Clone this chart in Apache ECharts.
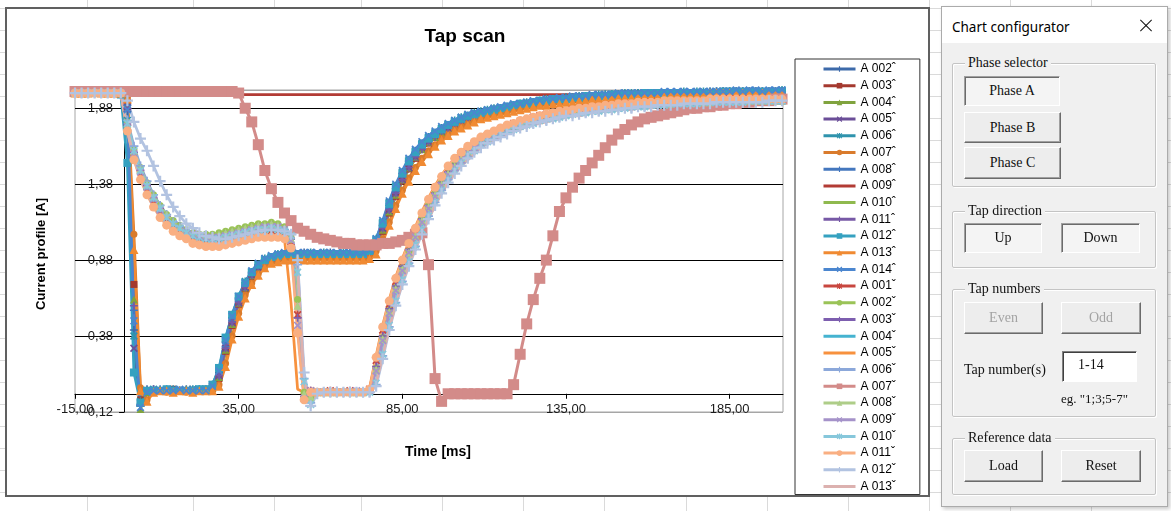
<!DOCTYPE html>
<html>
<head>
<meta charset="utf-8">
<script src="https://cdn.jsdelivr.net/npm/echarts/dist/echarts.min.js"></script>
<style>
  html, body { margin: 0; padding: 0; }
  body { width: 1171px; height: 511px; overflow: hidden; position: relative; background: #fff; font-family: 'Liberation Sans', Arial, sans-serif; }
  .hl { position: absolute; left: 0; width: 1171px; height: 1px; background: #DADADA; }
  .vl { position: absolute; top: 0; width: 1px; height: 511px; background: #DADADA; }
  #frame { position: absolute; left: 5px; top: 7px; width: 925px; height: 490px; box-sizing: border-box; border: 2px solid #606060; background: #fff; }
  #chart { position: absolute; left: 0; top: 0; width: 1171px; height: 511px; }
  #dlg { position: absolute; left: 941px; top: 6px; width: 227px; height: 501px; box-sizing: border-box; background: #F0F0F0; border: 1px solid #ABABAB; box-shadow: 2px 2px 4px rgba(0,0,0,0.22); }
  #dlgbar { position: absolute; left: 942px; top: 7px; width: 225px; height: 36px; background: #fff; }
  .ttl { position: absolute; left: 952px; top: 17px; font: 13.5px 'Noto Sans', sans-serif; line-height: 20px; color: #000; }
  .xl { position: absolute; left: 1138px; top: 25px; width: 16px; height: 1px; background: #111; }
  .grp { position: absolute; left: 952px; width: 204px; box-sizing: border-box; border: 1px solid #C4C4C4; box-shadow: inset 1px 1px 0 #fff, 1px 1px 0 #fff; border-radius: 2px; }
  .gt { position: absolute; left: 965px; background: #F0F0F0; padding: 0 3px; font: 14px 'Liberation Serif', serif; line-height: 16px; color: #111; }
  .btn { position: absolute; box-sizing: border-box; display: flex; align-items: center; justify-content: center; font: 14px 'Liberation Serif', serif; color: #111; background: #EDEDED; border: 1px solid; border-color: #FFFFFF #6B6B6B #6B6B6B #FFFFFF; box-shadow: inset -1px -1px 0 #A0A0A0; }
  .btn.on { border-color: #A0A0A0 #FFFFFF #FFFFFF #A0A0A0; box-shadow: inset 1px 1px 0 #6B6B6B; background: #F4F4F4; }
  .btn.off { color: #A3A3A3; }
  .lbl { position: absolute; font: 14px 'Liberation Serif', serif; line-height: 16px; color: #111; }
  .box { position: absolute; left: 1062px; top: 351px; width: 75px; height: 31px; box-sizing: border-box; background: #fff; border: 1px solid; border-color: #808080 #FFFFFF #FFFFFF #808080; box-shadow: inset 1px 1px 0 #404040; font: 14px 'Liberation Serif', serif; color: #111; padding: 5px 0 0 15px; }
</style>
</head>
<body>
<div id="sheet"></div>
<div id="frame"></div>
<div id="chart"></div>

<div id="dlg"></div>
<div id="dlgbar"></div>
<div class="ttl">Chart configurator</div>
<div class="xl" style="transform: rotate(45deg);"></div>
<div class="xl" style="transform: rotate(-45deg);"></div>

<div class="grp" style="top:63px; height:124px;"></div>
<div class="gt" style="top:55px;">Phase selector</div>
<div class="btn on" style="left:964px; top:76px; width:96px; height:30px;">Phase A</div>
<div class="btn" style="left:964px; top:112px; width:97px; height:31px;">Phase B</div>
<div class="btn" style="left:964px; top:147px; width:97px; height:32px;">Phase C</div>

<div class="grp" style="top:211px; height:57px;"></div>
<div class="gt" style="top:203px;">Tap direction</div>
<div class="btn on" style="left:964px; top:223px; width:78px; height:30px;">Up</div>
<div class="btn on" style="left:1061px; top:223px; width:79px; height:30px;">Down</div>

<div class="grp" style="top:289px; height:128px;"></div>
<div class="gt" style="top:281px;">Tap numbers</div>
<div class="btn off" style="left:964px; top:302px; width:79px; height:32px;">Even</div>
<div class="btn off" style="left:1061px; top:302px; width:80px; height:32px;">Odd</div>
<div class="lbl" style="left:964px; top:362px;">Tap number(s)</div>
<div class="box">1-14</div>
<div class="lbl" style="left:1061px; top:391px; font-size:13px;">eg. "1;3;5-7"</div>

<div class="grp" style="top:438px; height:57px;"></div>
<div class="gt" style="top:430px;">Reference data</div>
<div class="btn" style="left:964px; top:450px; width:79px; height:32px;">Load</div>
<div class="btn" style="left:1061px; top:450px; width:80px; height:32px;">Reset</div>

<script>
// Worksheet cell lines behind the chart object
(function () {
  const sheet = document.getElementById('sheet');
  const cols = [87, 193, 274, 361, 442, 523, 604, 686, 767, 848, 929, 1010, 1091];
  cols.forEach(function (x) {
    const d = document.createElement('div');
    d.className = 'vl'; d.style.left = x + 'px'; sheet.appendChild(d);
  });
  for (let y = 8; y < 511; y += 22) {
    const d = document.createElement('div');
    d.className = 'hl'; d.style.top = y + 'px'; sheet.appendChild(d);
  }
})();

// Sample times [ms]
const timeMs = [
  -15,-13,-11,-9,-7,-5,-3,-1,
  1,3,5,7,9,11,13,15,17,19,
  21,23,25,27,29,31,33,35,37,39,
  41,43,45,47,49,51,53,55,57,59,
  61,63,65,67,69,71,73,75,77,79,
  81,83,85,87,89,91,93,95,97,99,
  101,103,105,107,109,111,113,115,117,119,
  121,123,125,127,129,131,133,135,137,139,
  141,143,145,147,149,151,153,155,157,159,
  161,163,165,167,169,171,173,175,177,179,
  181,183,185,187,189,191,193,195,197,199,201
];

// Current profile [A], tap-up operations
const a002Up = [
  1.98,1.98,1.99,1.98,1.98,1.99,1.98,1.98,
  1.86,0.42,-0.07,0.03,0.02,0.02,0.03,0.02,0.02,0.03,
  0.02,0.02,0.03,0.05,0.14,0.34,0.50,0.63,0.73,0.80,
  0.85,0.88,0.90,0.91,0.92,0.92,0.92,0.93,0.92,0.92,
  0.92,0.93,0.92,0.92,0.93,0.92,0.92,0.94,1.00,1.11,
  1.24,1.35,1.45,1.53,1.59,1.64,1.68,1.71,1.74,1.77,
  1.79,1.81,1.83,1.84,1.85,1.86,1.87,1.88,1.89,1.90,
  1.91,1.91,1.92,1.93,1.93,1.94,1.94,1.95,1.95,1.95,
  1.96,1.96,1.96,1.97,1.97,1.97,1.97,1.97,1.98,1.98,
  1.98,1.98,1.98,1.98,1.98,1.98,1.98,1.98,1.98,1.98,
  1.99,1.99,1.99,1.99,1.99,1.99,1.99,1.99,1.99,1.99,1.99
];
const a003Up = [
  1.98,1.98,1.98,1.98,1.98,1.98,1.98,1.98,
  1.92,0.72,-0.04,0.02,0.02,0.02,0.02,0.03,0.02,0.02,
  0.02,0.02,0.03,0.04,0.10,0.28,0.45,0.59,0.69,0.77,
  0.83,0.87,0.89,0.90,0.91,0.91,0.91,0.91,0.91,0.91,
  0.91,0.91,0.91,0.91,0.91,0.91,0.91,0.92,0.97,1.07,
  1.19,1.30,1.40,1.48,1.55,1.61,1.65,1.69,1.72,1.75,
  1.77,1.79,1.81,1.83,1.84,1.85,1.86,1.87,1.88,1.89,
  1.90,1.91,1.91,1.92,1.92,1.93,1.93,1.94,1.94,1.95,
  1.95,1.95,1.96,1.96,1.96,1.96,1.97,1.97,1.97,1.97,
  1.97,1.98,1.98,1.98,1.98,1.98,1.98,1.98,1.98,1.98,
  1.98,1.98,1.99,1.99,1.99,1.99,1.99,1.99,1.99,1.99,1.99
];
const a004Up = [
  1.99,1.98,1.98,1.98,1.99,1.98,1.98,1.98,
  1.90,0.62,-0.10,0.01,0.02,0.02,0.02,0.02,0.02,0.03,
  0.02,0.02,0.02,0.04,0.11,0.29,0.46,0.60,0.70,0.78,
  0.83,0.87,0.89,0.90,0.91,0.91,0.92,0.91,0.91,0.91,
  0.91,0.91,0.92,0.91,0.91,0.91,0.91,0.92,0.98,1.08,
  1.20,1.31,1.41,1.49,1.56,1.61,1.66,1.69,1.72,1.75,
  1.78,1.80,1.81,1.83,1.84,1.85,1.86,1.87,1.88,1.89,
  1.90,1.90,1.91,1.92,1.92,1.93,1.93,1.94,1.94,1.94,
  1.95,1.95,1.96,1.96,1.96,1.96,1.97,1.97,1.97,1.97,
  1.97,1.97,1.98,1.98,1.98,1.98,1.98,1.98,1.98,1.98,
  1.98,1.98,1.98,1.99,1.99,1.99,1.99,1.99,1.99,1.99,1.99
];
const a005Up = [
  1.98,1.98,1.99,1.98,1.98,1.98,1.99,1.98,
  1.89,0.30,-0.06,0.02,0.02,0.02,0.02,0.02,0.02,0.02,
  0.03,0.02,0.02,0.04,0.12,0.30,0.47,0.60,0.70,0.78,
  0.83,0.87,0.89,0.90,0.91,0.91,0.91,0.92,0.91,0.91,
  0.92,0.91,0.91,0.91,0.92,0.91,0.91,0.92,0.98,1.09,
  1.21,1.32,1.41,1.49,1.56,1.62,1.66,1.70,1.73,1.75,
  1.78,1.80,1.82,1.83,1.84,1.85,1.86,1.87,1.88,1.89,
  1.90,1.91,1.91,1.92,1.92,1.93,1.93,1.94,1.94,1.95,
  1.95,1.95,1.96,1.96,1.96,1.96,1.97,1.97,1.97,1.97,
  1.97,1.98,1.98,1.98,1.98,1.98,1.98,1.98,1.98,1.98,
  1.98,1.99,1.99,1.99,1.99,1.99,1.99,1.99,1.99,1.99,1.99
];
const a006Up = [
  1.98,1.99,1.98,1.98,1.99,1.98,1.98,1.98,
  1.80,0.38,-0.05,0.02,0.03,0.02,0.02,0.03,0.02,0.02,
  0.03,0.02,0.02,0.06,0.16,0.36,0.52,0.64,0.74,0.80,
  0.85,0.89,0.90,0.92,0.92,0.93,0.92,0.92,0.93,0.92,
  0.93,0.92,0.92,0.93,0.92,0.93,0.92,0.95,1.02,1.13,
  1.26,1.37,1.46,1.54,1.60,1.65,1.69,1.72,1.75,1.77,
  1.80,1.82,1.83,1.85,1.86,1.87,1.88,1.88,1.89,1.90,
  1.91,1.92,1.92,1.93,1.94,1.94,1.94,1.95,1.95,1.96,
  1.96,1.96,1.97,1.97,1.97,1.97,1.98,1.98,1.98,1.98,
  1.98,1.98,1.98,1.98,1.98,1.99,1.98,1.99,1.99,1.99,
  1.99,1.99,1.99,1.99,1.99,1.99,1.99,1.99,1.99,1.99,2.00
];
const a007Up = [
  1.98,1.98,1.98,1.98,1.98,1.98,1.98,1.98,
  1.95,1.05,0.04,-0.04,0.02,0.02,0.01,0.02,0.02,0.01,
  0.02,0.02,0.02,0.02,0.06,0.20,0.38,0.53,0.65,0.73,
  0.79,0.84,0.86,0.88,0.89,0.89,0.89,0.89,0.89,0.89,
  0.89,0.89,0.89,0.89,0.89,0.89,0.89,0.90,0.94,1.02,
  1.13,1.24,1.34,1.42,1.49,1.55,1.60,1.64,1.68,1.71,
  1.74,1.76,1.78,1.80,1.81,1.83,1.84,1.85,1.86,1.87,
  1.88,1.89,1.89,1.90,1.91,1.91,1.92,1.92,1.93,1.93,
  1.94,1.94,1.94,1.95,1.95,1.95,1.96,1.96,1.96,1.96,
  1.96,1.97,1.97,1.97,1.97,1.97,1.97,1.98,1.98,1.98,
  1.98,1.98,1.98,1.98,1.98,1.98,1.98,1.98,1.98,1.98,1.98
];
const a008Up = [
  1.99,1.98,1.98,1.99,1.98,1.98,1.98,1.99,
  1.90,0.55,-0.08,0.02,0.02,0.03,0.02,0.02,0.02,0.02,
  0.02,0.03,0.02,0.04,0.12,0.31,0.48,0.61,0.71,0.79,
  0.84,0.88,0.90,0.91,0.91,0.92,0.92,0.92,0.91,0.92,
  0.92,0.92,0.91,0.92,0.92,0.92,0.92,0.93,0.99,1.10,
  1.22,1.33,1.43,1.51,1.58,1.63,1.67,1.71,1.74,1.76,
  1.79,1.81,1.82,1.84,1.85,1.86,1.87,1.88,1.89,1.89,
  1.90,1.91,1.92,1.92,1.93,1.93,1.94,1.94,1.95,1.95,
  1.95,1.96,1.96,1.96,1.97,1.97,1.97,1.97,1.97,1.98,
  1.98,1.98,1.98,1.98,1.98,1.98,1.98,1.98,1.98,1.99,
  1.99,1.99,1.99,1.99,1.99,1.99,1.99,1.99,1.99,1.99,1.99
];
const a009Up = [
  1.97,1.97,1.97,1.97,1.97,1.97,1.97,1.97,
  1.97,1.97,1.97,1.97,1.97,1.97,1.97,1.97,1.97,1.97,
  1.97,1.97,1.97,1.97,1.97,1.97,1.97,1.97,1.97,1.97,
  1.97,1.97,1.97,1.97,1.97,1.97,1.97,1.97,1.97,1.97,
  1.97,1.97,1.97,1.97,1.97,1.97,1.97,1.97,1.97,1.97,
  1.97,1.97,1.97,1.97,1.97,1.97,1.97,1.97,1.97,1.97,
  1.97,1.97,1.97,1.97,1.97,1.97,1.97,1.97,1.97,1.97,
  1.97,1.97,1.97,1.97,1.97,1.97,1.97,1.97,1.97,1.97,
  1.97,1.97,1.97,1.97,1.97,1.97,1.97,1.97,1.97,1.97,
  1.97,1.97,1.97,1.97,1.97,1.97,1.97,1.97,1.97,1.97,
  1.97,1.97,1.97,1.97,1.97,1.97,1.97,1.97,1.97,1.97,1.97
];
const a010Up = [
  1.98,1.98,1.98,1.98,1.98,1.98,1.98,1.98,
  1.91,0.66,-0.05,0.02,0.02,0.02,0.02,0.02,0.02,0.02,
  0.02,0.02,0.02,0.04,0.11,0.29,0.46,0.59,0.70,0.77,
  0.83,0.86,0.89,0.90,0.91,0.91,0.91,0.91,0.91,0.91,
  0.91,0.91,0.91,0.91,0.91,0.91,0.91,0.92,0.97,1.08,
  1.20,1.31,1.40,1.48,1.55,1.61,1.65,1.69,1.72,1.75,
  1.77,1.80,1.81,1.83,1.84,1.85,1.86,1.87,1.88,1.89,
  1.90,1.90,1.91,1.92,1.92,1.93,1.93,1.94,1.94,1.94,
  1.95,1.95,1.95,1.96,1.96,1.96,1.96,1.97,1.97,1.97,
  1.97,1.97,1.98,1.98,1.98,1.98,1.98,1.98,1.98,1.98,
  1.98,1.98,1.98,1.98,1.99,1.99,1.99,1.99,1.99,1.99,1.99
];
const a011Up = [
  1.98,1.99,1.98,1.98,1.98,1.99,1.98,1.98,
  1.88,0.58,-0.08,0.02,0.03,0.02,0.02,0.02,0.02,0.02,
  0.02,0.03,0.02,0.04,0.12,0.30,0.47,0.60,0.70,0.78,
  0.84,0.87,0.89,0.90,0.91,0.91,0.91,0.91,0.92,0.91,
  0.91,0.91,0.91,0.92,0.91,0.91,0.91,0.92,0.98,1.09,
  1.21,1.32,1.41,1.49,1.56,1.61,1.66,1.69,1.73,1.75,
  1.78,1.80,1.82,1.83,1.84,1.86,1.87,1.87,1.88,1.89,
  1.90,1.91,1.91,1.92,1.92,1.93,1.93,1.94,1.94,1.95,
  1.95,1.95,1.96,1.96,1.96,1.97,1.97,1.97,1.97,1.97,
  1.98,1.98,1.98,1.98,1.98,1.98,1.98,1.98,1.98,1.98,
  1.98,1.99,1.99,1.99,1.99,1.99,1.99,1.99,1.99,1.99,1.99
];
const a012Up = [
  1.98,1.98,1.98,1.98,1.98,1.98,1.98,1.97,
  1.52,0.14,-0.06,0.02,0.02,0.02,0.03,0.02,0.02,0.02,
  0.02,0.03,0.03,0.06,0.17,0.37,0.52,0.64,0.73,0.80,
  0.85,0.88,0.90,0.91,0.92,0.92,0.92,0.92,0.92,0.92,
  0.92,0.92,0.92,0.92,0.92,0.92,0.92,0.94,1.01,1.12,
  1.25,1.36,1.45,1.53,1.59,1.64,1.68,1.71,1.74,1.77,
  1.79,1.81,1.83,1.84,1.85,1.86,1.87,1.88,1.89,1.90,
  1.91,1.91,1.92,1.93,1.93,1.94,1.94,1.94,1.95,1.95,
  1.96,1.96,1.96,1.96,1.97,1.97,1.97,1.97,1.97,1.98,
  1.98,1.98,1.98,1.98,1.98,1.98,1.98,1.98,1.98,1.98,
  1.98,1.99,1.99,1.99,1.99,1.99,1.99,1.99,1.99,1.99,1.99
];
const a013Up = [
  1.98,1.98,1.98,1.99,1.98,1.98,1.98,1.98,
  1.94,0.95,0.02,-0.05,0.01,0.02,0.02,0.01,0.02,0.02,
  0.01,0.02,0.02,0.02,0.05,0.18,0.36,0.51,0.63,0.72,
  0.78,0.83,0.86,0.87,0.88,0.88,0.89,0.88,0.88,0.88,
  0.88,0.88,0.88,0.88,0.88,0.88,0.88,0.89,0.92,1.00,
  1.11,1.22,1.32,1.40,1.47,1.53,1.58,1.63,1.67,1.70,
  1.73,1.75,1.77,1.79,1.81,1.82,1.83,1.84,1.85,1.86,
  1.87,1.88,1.89,1.90,1.90,1.91,1.91,1.92,1.92,1.93,
  1.93,1.94,1.94,1.94,1.95,1.95,1.95,1.95,1.96,1.96,
  1.96,1.96,1.96,1.97,1.97,1.97,1.97,1.97,1.97,1.98,
  1.98,1.98,1.98,1.98,1.98,1.98,1.98,1.98,1.98,1.98,1.98
];
const a014Up = [
  1.98,1.98,1.98,1.99,1.99,1.98,1.98,1.98,
  1.87,0.48,-0.09,0.01,0.02,0.02,0.02,0.02,0.03,0.02,
  0.02,0.02,0.02,0.05,0.15,0.35,0.51,0.64,0.73,0.81,
  0.86,0.89,0.91,0.92,0.93,0.93,0.93,0.93,0.93,0.93,
  0.93,0.93,0.93,0.93,0.93,0.93,0.93,0.95,1.02,1.14,
  1.27,1.38,1.47,1.55,1.61,1.66,1.70,1.73,1.76,1.78,
  1.80,1.82,1.84,1.85,1.86,1.87,1.88,1.89,1.90,1.91,
  1.91,1.92,1.93,1.93,1.94,1.94,1.95,1.95,1.96,1.96,
  1.96,1.97,1.97,1.97,1.97,1.98,1.98,1.98,1.98,1.98,
  1.98,1.98,1.99,1.99,1.99,1.99,1.99,1.99,1.99,1.99,
  1.99,1.99,1.99,2.00,1.99,2.00,2.00,1.99,2.00,2.00,2.00
];

// Current profile [A], tap-down operations
const a001Dn = [
  1.98,1.98,1.98,1.98,1.98,1.98,1.98,1.98,
  1.75,1.56,1.43,1.33,1.25,1.18,1.13,1.09,1.06,1.04,
  1.02,1.01,1.00,1.00,1.00,1.01,1.02,1.03,1.04,1.05,
  1.06,1.06,1.07,1.07,1.06,1.00,0.52,-0.02,0.02,0.01,
  0.01,0.02,0.01,0.01,0.02,0.01,0.01,0.03,0.22,0.42,
  0.59,0.74,0.86,0.97,1.07,1.17,1.26,1.34,1.41,1.48,
  1.53,1.58,1.62,1.65,1.68,1.70,1.72,1.74,1.76,1.78,
  1.79,1.80,1.82,1.83,1.84,1.84,1.85,1.86,1.87,1.87,
  1.88,1.88,1.89,1.89,1.90,1.90,1.91,1.91,1.91,1.92,
  1.92,1.92,1.92,1.92,1.93,1.93,1.93,1.93,1.93,1.93,
  1.93,1.94,1.94,1.94,1.94,1.94,1.94,1.94,1.94,1.94,1.94
];
const a002Dn = [
  1.98,1.98,1.98,1.98,1.98,1.98,1.98,1.98,
  1.79,1.61,1.49,1.39,1.31,1.24,1.18,1.14,1.11,1.08,
  1.06,1.05,1.05,1.05,1.06,1.07,1.08,1.09,1.10,1.11,
  1.12,1.12,1.13,1.12,1.10,1.03,0.62,0.01,-0.03,0.01,
  0.01,0.01,0.01,0.01,0.01,0.01,0.01,0.02,0.17,0.37,
  0.55,0.70,0.83,0.94,1.05,1.15,1.24,1.32,1.39,1.45,
  1.51,1.55,1.59,1.63,1.66,1.68,1.71,1.73,1.75,1.76,
  1.78,1.79,1.80,1.81,1.82,1.83,1.84,1.85,1.86,1.86,
  1.87,1.87,1.88,1.88,1.89,1.89,1.90,1.90,1.90,1.91,
  1.91,1.91,1.91,1.92,1.92,1.92,1.92,1.92,1.92,1.93,
  1.93,1.93,1.93,1.93,1.93,1.93,1.93,1.93,1.93,1.93,1.93
];
const a003Dn = [
  1.98,1.98,1.98,1.98,1.98,1.98,1.98,1.98,
  1.77,1.59,1.47,1.37,1.29,1.22,1.17,1.13,1.10,1.07,
  1.05,1.04,1.03,1.03,1.04,1.05,1.06,1.07,1.08,1.09,
  1.10,1.10,1.11,1.10,1.08,1.02,0.50,-0.02,0.02,0.01,
  0.01,0.01,0.02,0.01,0.01,0.01,0.01,0.02,0.18,0.38,
  0.56,0.71,0.84,0.95,1.05,1.15,1.24,1.32,1.39,1.46,
  1.51,1.56,1.60,1.63,1.66,1.69,1.71,1.73,1.75,1.77,
  1.78,1.79,1.80,1.82,1.82,1.83,1.84,1.85,1.86,1.86,
  1.87,1.87,1.88,1.88,1.89,1.89,1.90,1.90,1.90,1.91,
  1.91,1.91,1.91,1.92,1.92,1.92,1.92,1.92,1.93,1.93,
  1.93,1.93,1.93,1.93,1.93,1.93,1.93,1.93,1.93,1.93,1.94
];
const a004Dn = [
  1.98,1.98,1.98,1.98,1.98,1.98,1.98,1.98,
  1.76,1.57,1.44,1.34,1.26,1.19,1.14,1.10,1.07,1.05,
  1.03,1.02,1.01,1.01,1.01,1.02,1.03,1.04,1.05,1.06,
  1.07,1.07,1.08,1.08,1.07,1.04,0.78,0.06,-0.05,0.01,
  0.01,0.01,0.01,0.01,0.01,0.01,0.01,0.01,0.08,0.27,
  0.46,0.62,0.76,0.88,0.99,1.09,1.18,1.27,1.35,1.42,
  1.48,1.53,1.57,1.61,1.64,1.67,1.69,1.71,1.73,1.75,
  1.76,1.78,1.79,1.80,1.81,1.82,1.83,1.84,1.84,1.85,
  1.86,1.86,1.87,1.87,1.88,1.88,1.89,1.89,1.89,1.90,
  1.90,1.90,1.91,1.91,1.91,1.91,1.91,1.92,1.92,1.92,
  1.92,1.92,1.92,1.92,1.93,1.93,1.93,1.93,1.93,1.93,1.93
];
const a005Dn = [
  1.98,1.98,1.98,1.98,1.98,1.98,1.98,1.98,
  1.74,1.55,1.42,1.32,1.24,1.17,1.12,1.08,1.05,1.03,
  1.01,1.00,0.99,0.99,0.99,1.00,1.01,1.02,1.03,1.04,
  1.05,1.05,1.06,1.05,1.02,0.60,0.03,0.01,0.01,0.01,
  0.02,0.01,0.01,0.01,0.01,0.02,0.01,0.04,0.25,0.45,
  0.62,0.77,0.89,1.00,1.10,1.20,1.29,1.37,1.44,1.50,
  1.55,1.60,1.63,1.67,1.69,1.72,1.74,1.75,1.77,1.79,
  1.80,1.81,1.82,1.83,1.84,1.85,1.86,1.87,1.87,1.88,
  1.88,1.89,1.89,1.90,1.90,1.91,1.91,1.91,1.92,1.92,
  1.92,1.92,1.93,1.93,1.93,1.93,1.93,1.93,1.94,1.94,
  1.94,1.94,1.94,1.94,1.94,1.94,1.94,1.94,1.94,1.94,1.94
];
const a006Dn = [
  1.98,1.98,1.98,1.98,1.98,1.98,1.98,1.98,
  1.80,1.63,1.50,1.40,1.31,1.24,1.18,1.13,1.10,1.07,
  1.05,1.03,1.02,1.02,1.02,1.03,1.04,1.05,1.06,1.07,
  1.08,1.08,1.09,1.09,1.08,1.05,0.85,0.10,-0.06,0.01,
  0.01,0.01,0.01,0.01,0.01,0.01,0.01,0.01,0.06,0.25,
  0.44,0.60,0.74,0.86,0.97,1.07,1.17,1.26,1.34,1.41,
  1.47,1.52,1.56,1.60,1.63,1.66,1.68,1.70,1.72,1.74,
  1.76,1.77,1.78,1.80,1.80,1.81,1.82,1.83,1.84,1.84,
  1.85,1.86,1.86,1.87,1.87,1.88,1.88,1.88,1.89,1.89,
  1.90,1.90,1.90,1.90,1.91,1.91,1.91,1.91,1.91,1.92,
  1.92,1.92,1.92,1.92,1.92,1.92,1.93,1.93,1.93,1.93,1.93
];
const a007Dn = [
  1.99,1.99,1.99,1.99,1.99,1.99,1.99,1.99,
  1.99,1.99,1.99,1.99,1.99,1.99,1.99,1.99,1.99,1.99,
  1.99,1.99,1.99,1.99,1.99,1.99,1.99,1.98,1.88,1.79,
  1.64,1.47,1.35,1.26,1.19,1.14,1.09,1.07,1.05,1.03,
  1.02,1.01,1.00,0.99,0.99,0.98,0.98,0.98,0.98,0.99,
  0.99,1.00,1.01,1.03,1.05,1.06,0.85,0.10,-0.05,0.00,
  0.00,0.00,0.00,0.00,0.00,0.00,0.00,0.00,0.00,0.06,
  0.26,0.46,0.62,0.76,0.88,1.04,1.20,1.29,1.36,1.42,
  1.47,1.52,1.57,1.62,1.67,1.71,1.74,1.77,1.79,1.81,
  1.82,1.83,1.84,1.85,1.86,1.87,1.88,1.88,1.89,1.89,
  1.90,1.90,1.91,1.91,1.92,1.92,1.93,1.93,1.93,1.94,1.94
];
const a008Dn = [
  1.98,1.98,1.98,1.98,1.98,1.98,1.98,1.98,
  1.78,1.60,1.48,1.38,1.30,1.23,1.18,1.13,1.10,1.08,
  1.06,1.05,1.04,1.04,1.05,1.06,1.07,1.08,1.09,1.10,
  1.11,1.11,1.12,1.11,1.09,1.02,0.58,0.00,-0.02,0.01,
  0.01,0.01,0.01,0.02,0.01,0.01,0.01,0.02,0.16,0.36,
  0.54,0.69,0.82,0.93,1.04,1.14,1.23,1.31,1.38,1.45,
  1.50,1.55,1.59,1.62,1.65,1.68,1.70,1.72,1.74,1.76,
  1.77,1.79,1.80,1.81,1.82,1.83,1.84,1.84,1.85,1.86,
  1.86,1.87,1.87,1.88,1.88,1.89,1.89,1.90,1.90,1.90,
  1.91,1.91,1.91,1.91,1.92,1.92,1.92,1.92,1.92,1.92,
  1.93,1.93,1.93,1.93,1.93,1.93,1.93,1.93,1.93,1.93,1.93
];
const a009Dn = [
  1.98,1.98,1.98,1.98,1.98,1.98,1.98,1.98,
  1.76,1.58,1.46,1.36,1.28,1.21,1.16,1.12,1.09,1.07,
  1.05,1.04,1.03,1.03,1.03,1.04,1.05,1.06,1.07,1.08,
  1.09,1.10,1.10,1.10,1.08,1.01,0.45,-0.03,0.02,0.01,
  0.01,0.01,0.01,0.01,0.01,0.02,0.01,0.02,0.15,0.35,
  0.53,0.68,0.81,0.93,1.03,1.13,1.22,1.30,1.37,1.44,
  1.49,1.54,1.58,1.62,1.65,1.67,1.70,1.72,1.74,1.75,
  1.77,1.78,1.79,1.81,1.82,1.82,1.83,1.84,1.85,1.85,
  1.86,1.87,1.87,1.88,1.88,1.88,1.89,1.89,1.90,1.90,
  1.90,1.91,1.91,1.91,1.91,1.92,1.92,1.92,1.92,1.92,
  1.92,1.93,1.93,1.93,1.93,1.93,1.93,1.93,1.93,1.93,1.93
];
const a010Dn = [
  1.98,1.98,1.98,1.98,1.98,1.98,1.98,1.98,
  1.78,1.60,1.47,1.37,1.29,1.22,1.16,1.12,1.09,1.06,
  1.04,1.03,1.02,1.02,1.02,1.03,1.04,1.05,1.06,1.07,
  1.08,1.08,1.09,1.08,1.07,1.04,0.80,0.08,-0.07,0.01,
  0.01,0.01,0.01,0.01,0.01,0.01,0.01,0.01,0.07,0.26,
  0.45,0.61,0.75,0.87,0.98,1.08,1.17,1.26,1.34,1.41,
  1.47,1.52,1.57,1.60,1.64,1.66,1.69,1.71,1.73,1.74,
  1.76,1.77,1.78,1.80,1.81,1.81,1.82,1.83,1.84,1.85,
  1.85,1.86,1.86,1.87,1.87,1.88,1.88,1.89,1.89,1.89,
  1.90,1.90,1.90,1.91,1.91,1.91,1.91,1.91,1.92,1.92,
  1.92,1.92,1.92,1.92,1.92,1.93,1.93,1.93,1.93,1.93,1.93
];
const a011Dn = [
  1.98,1.98,1.98,1.98,1.98,1.98,1.98,1.98,
  1.73,1.54,1.41,1.31,1.23,1.16,1.11,1.07,1.04,1.02,
  0.99,0.98,0.97,0.97,0.97,0.98,0.99,1.00,1.01,1.02,
  1.03,1.03,1.03,1.03,1.02,0.96,0.40,-0.04,0.01,0.01,
  0.01,0.01,0.01,0.01,0.01,0.01,0.01,0.03,0.24,0.44,
  0.61,0.76,0.88,0.99,1.09,1.19,1.28,1.36,1.43,1.50,
  1.55,1.59,1.63,1.66,1.69,1.71,1.73,1.75,1.77,1.78,
  1.80,1.81,1.82,1.83,1.84,1.85,1.86,1.86,1.87,1.88,
  1.88,1.89,1.89,1.90,1.90,1.91,1.91,1.91,1.92,1.92,
  1.92,1.92,1.93,1.93,1.93,1.93,1.93,1.93,1.93,1.94,
  1.94,1.94,1.94,1.94,1.94,1.94,1.94,1.94,1.94,1.94,1.94
];
const a012Dn = [
  1.98,1.98,1.98,1.98,1.98,1.98,1.98,1.98,
  1.93,1.79,1.68,1.60,1.50,1.40,1.31,1.23,1.17,1.12,
  1.09,1.06,1.04,1.03,1.02,1.02,1.03,1.04,1.05,1.06,
  1.07,1.08,1.08,1.08,1.07,1.05,0.88,0.14,-0.08,0.00,
  0.01,0.01,0.01,0.01,0.01,0.01,0.01,0.01,0.05,0.23,
  0.42,0.58,0.72,0.84,0.95,1.05,1.15,1.24,1.32,1.39,
  1.45,1.50,1.55,1.59,1.62,1.65,1.67,1.69,1.71,1.73,
  1.75,1.76,1.78,1.79,1.80,1.81,1.82,1.83,1.83,1.84,
  1.85,1.85,1.86,1.86,1.87,1.87,1.88,1.88,1.89,1.89,
  1.89,1.90,1.90,1.90,1.90,1.91,1.91,1.91,1.91,1.91,
  1.92,1.92,1.92,1.92,1.92,1.92,1.92,1.92,1.93,1.93,1.93
];
const a013Dn = [
  1.98,1.98,1.98,1.98,1.98,1.98,1.98,1.98,
  1.74,1.55,1.42,1.32,1.24,1.17,1.12,1.08,1.05,1.03,
  1.01,1.00,0.99,0.99,0.99,1.00,1.01,1.02,1.03,1.04,
  1.05,1.05,1.05,1.05,1.04,1.02,0.82,0.08,-0.04,0.00,
  0.01,0.01,0.01,0.01,0.01,0.01,0.01,0.01,0.07,0.25,
  0.43,0.59,0.73,0.85,0.96,1.06,1.15,1.24,1.32,1.39,
  1.45,1.50,1.54,1.58,1.62,1.65,1.67,1.69,1.71,1.73,
  1.74,1.76,1.77,1.78,1.79,1.80,1.81,1.82,1.83,1.83,
  1.84,1.85,1.85,1.86,1.86,1.87,1.87,1.87,1.88,1.88,
  1.88,1.89,1.89,1.89,1.90,1.90,1.90,1.90,1.90,1.91,
  1.91,1.91,1.91,1.91,1.91,1.92,1.92,1.92,1.92,1.92,1.92
];

// Axis tick settings
const xTicks = { min: -15, max: 201.3, step: 50 };
const yTicks = { min: -0.12, max: 2.0, step: 0.5 };

// Plot rectangle (pixels) and where the axes cross (t = 0 ms, I = 0 A)
const plot = { left: 75, top: 90, width: 708, height: 322 };
const yAxisShift = -(0 - xTicks.min) / (xTicks.max - xTicks.min) * plot.width;
const xAxisShift = -(0 - yTicks.min) / (yTicks.max - yTicks.min) * plot.height;

// Marker shapes in the spreadsheet style
const PLUS = 'path://M4,0H6V4H10V6H6V10H4V6H0V4H4Z';
const CROSS = 'path://M1.5,0L10,8.5L8.5,10L0,1.5Z M8.5,0L10,1.5L1.5,10L0,8.5Z';
const STAR = 'path://M4,0H6V10H4Z M1.5,0L10,8.5L8.5,10L0,1.5Z M8.5,0L10,1.5L1.5,10L0,8.5Z';

const seriesDefs = [
  { name: 'A 002ˆ', values: a002Up, color: '#3D6AAA', symbol: PLUS, size: 8 },
  { name: 'A 003ˆ', values: a003Up, color: '#A4392F', symbol: 'rect', size: 7 },
  { name: 'A 004ˆ', values: a004Up, color: '#80A33E', symbol: 'triangle', size: 8 },
  { name: 'A 005ˆ', values: a005Up, color: '#6B4E98', symbol: CROSS, size: 8 },
  { name: 'A 006ˆ', values: a006Up, color: '#2F93AD', symbol: STAR, size: 8 },
  { name: 'A 007ˆ', values: a007Up, color: '#D97B2C', symbol: 'circle', size: 7 },
  { name: 'A 008ˆ', values: a008Up, color: '#4477BE', symbol: PLUS, size: 8 },
  { name: 'A 009ˆ', values: a009Up, color: '#B23B34', symbol: 'none', size: 0 },
  { name: 'A 010ˆ', values: a010Up, color: '#8FB94E', symbol: 'none', size: 0 },
  { name: 'A 011ˆ', values: a011Up, color: '#7759A6', symbol: PLUS, size: 8 },
  { name: 'A 012ˆ', values: a012Up, color: '#35A1C0', symbol: 'rect', size: 8 },
  { name: 'A 013ˆ', values: a013Up, color: '#F08A32', symbol: 'triangle', size: 9 },
  { name: 'A 014ˆ', values: a014Up, color: '#4B86CF', symbol: CROSS, size: 8 },
  { name: 'A 001ˇ', values: a001Dn, color: '#C8463F', symbol: STAR, size: 8 },
  { name: 'A 002ˇ', values: a002Dn, color: '#9AC357', symbol: 'circle', size: 7 },
  { name: 'A 003ˇ', values: a003Dn, color: '#7D5EAF', symbol: PLUS, size: 8 },
  { name: 'A 004ˇ', values: a004Dn, color: '#45B3D0', symbol: 'none', size: 0 },
  { name: 'A 005ˇ', values: a005Dn, color: '#F7913E', symbol: 'none', size: 0 },
  { name: 'A 006ˇ', values: a006Dn, color: '#8CA8DA', symbol: PLUS, size: 9 },
  { name: 'A 007ˇ', values: a007Dn, color: '#D38B89', symbol: 'rect', size: 11, width: 3 },
  { name: 'A 008ˇ', values: a008Dn, color: '#AECD88', symbol: 'triangle', size: 8 },
  { name: 'A 009ˇ', values: a009Dn, color: '#A592C9', symbol: CROSS, size: 8 },
  { name: 'A 010ˇ', values: a010Dn, color: '#86C7DB', symbol: STAR, size: 8 },
  { name: 'A 011ˇ', values: a011Dn, color: '#F9AF82', symbol: 'circle', size: 9 },
  { name: 'A 012ˇ', values: a012Dn, color: '#B2C3E1', symbol: PLUS, size: 11 },
  { name: 'A 013ˇ', values: a013Dn, color: '#DCB1AF', symbol: 'none', size: 0 }
];

function commaFixed(v) {
  return Number(v).toFixed(2).replace('.', ',');
}

const series = seriesDefs.map(function (d) {
  return {
    type: 'line',
    name: d.name,
    data: timeMs.map(function (t, i) { return [t, d.values[i]]; }),
    symbol: d.symbol,
    symbolSize: d.size,
    showSymbol: d.symbol !== 'none',
    lineStyle: { color: d.color, width: d.width || 2.75 },
    itemStyle: { color: d.color, borderWidth: 0 },
    emphasis: { disabled: true },
    silent: true
  };
});

const legendData = seriesDefs.map(function (d) {
  return d.symbol === 'none' ? { name: d.name, itemStyle: { opacity: 0 } } : { name: d.name };
});

const chart = echarts.init(document.getElementById('chart'), null, { renderer: 'canvas' });
chart.setOption({
  animation: false,
  textStyle: { fontFamily: 'Liberation Sans' },
  title: {
    text: 'Tap scan',
    left: 465,
    top: 27,
    padding: 0,
    textAlign: 'center',
    textStyle: { fontSize: 19, fontWeight: 'bold', color: '#000', fontFamily: 'Liberation Sans' }
  },
  legend: {
    orient: 'vertical',
    left: 795,
    top: 59,
    padding: [4, 24, 2, 27],
    itemWidth: 32,
    itemHeight: 7,
    itemGap: 4.7,
    borderColor: '#333',
    borderWidth: 1,
    backgroundColor: '#fff',
    selectedMode: false,
    textStyle: { fontSize: 12, color: '#000', fontFamily: 'Liberation Sans' },
    lineStyle: { width: 3 },
    data: legendData
  },
  grid: {
    left: plot.left, top: plot.top, width: plot.width, height: plot.height,
    show: true, borderColor: '#A6A6A6', borderWidth: 1, backgroundColor: 'transparent'
  },
  xAxis: {
    type: 'value',
    position: 'bottom',
    offset: xAxisShift,
    min: xTicks.min, max: xTicks.max, interval: xTicks.step,
    axisLine: { show: true, onZero: false, lineStyle: { color: '#000', width: 1 } },
    axisTick: { show: true, length: 5, lineStyle: { color: '#000' } },
    axisLabel: { margin: 9, fontSize: 13, color: '#1a1a1a', formatter: commaFixed, showMaxLabel: false, showMinLabel: true },
    splitLine: { show: false }
  },
  yAxis: {
    type: 'value',
    position: 'left',
    offset: yAxisShift,
    min: yTicks.min, max: yTicks.max, interval: yTicks.step,
    axisLine: { show: true, onZero: false, lineStyle: { color: '#000', width: 1 } },
    axisTick: { show: true, length: 5, lineStyle: { color: '#000' } },
    axisLabel: { margin: 11, fontSize: 13, color: '#1a1a1a', formatter: commaFixed, showMaxLabel: false, showMinLabel: true },
    splitLine: { show: true, lineStyle: { color: ['#A6A6A6', '#000', '#000', '#000', '#000', '#A6A6A6'], width: 1 } }
  },
  graphic: [
    {
      type: 'text', x: 438, y: 452, silent: true,
      style: { text: 'Time [ms]', fontSize: 14, fontWeight: 'bold', fontFamily: 'Liberation Sans', fill: '#000', align: 'center', verticalAlign: 'middle' }
    },
    {
      type: 'text', x: 41, y: 254, rotation: Math.PI / 2, silent: true,
      style: { text: 'Current profile [A]', fontSize: 13, fontWeight: 'bold', fontFamily: 'Liberation Sans', fill: '#000', align: 'center', verticalAlign: 'middle' }
    }
  ],
  series: series
});
</script>
</body>
</html>
